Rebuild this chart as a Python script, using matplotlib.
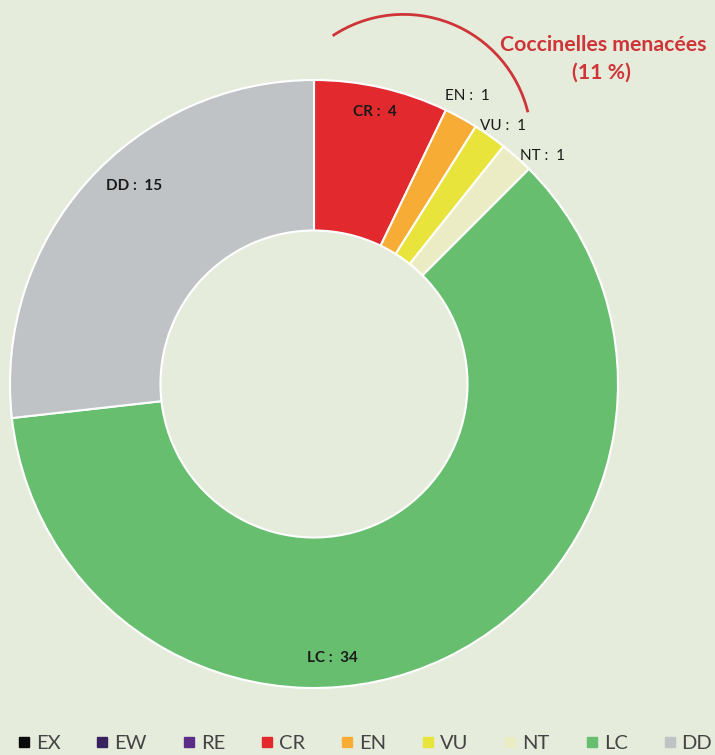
import numpy as np
import matplotlib
matplotlib.use("Agg")
import matplotlib.pyplot as plt
from matplotlib.patches import Arc
from matplotlib.lines import Line2D

# Données
categories = ["EX", "EW", "RE", "CR", "EN", "VU", "NT", "LC", "DD"]
values = [0, 0, 0, 4, 1, 1, 1, 34, 15]
colors = ["#0a0a0a", "#3a2160", "#5b2d86", "#e1292e", "#f7ad35",
          "#e9e43c", "#ececc4", "#66be6e", "#bfc3c6"]
bold_labels = ["CR", "LC", "DD"]

bg = "#e6ecdc"
red = "#cf3438"

plt.rcParams['font.family'] = ['Lato', 'DejaVu Sans']

fig = plt.figure(figsize=(7.15, 7.55), dpi=100)
fig.patch.set_facecolor(bg)
ax = fig.add_axes([0, 0, 1, 1])
ax.set_facecolor(bg)

# nur Kategorien mit Werten > 0 zeichnen
cats_pie = [c for c, v in zip(categories, values) if v > 0]
vals_pie = [v for v in values if v > 0]
cols_pie = [col for col, v in zip(colors, values) if v > 0]

cx, cy, R = 314, 371, 304
ax.pie(vals_pie, colors=cols_pie, startangle=90, counterclock=False,
       center=(cx, cy), radius=R, frame=True,
       wedgeprops=dict(width=R * 0.495, edgecolor="white", linewidth=1.5))
ax.set_xlim(0, 715)
ax.set_ylim(0, 755)
ax.axis("off")

# Position der Beschriftungen (Pixel, y von oben)
label_pos = {"CR": (375, 112), "EN": (467, 96), "VU": (503, 126),
             "NT": (543, 156), "LC": (332, 658), "DD": (134, 186)}
for c, v in zip(cats_pie, vals_pie):
    x, y = label_pos[c]
    ax.text(x, 755 - y, f"{c} :  {v}", ha="center", va="center", fontsize=11,
            color="#1a1a1a", fontweight="bold" if c in bold_labels else "normal")

# Bogen + Titel "menacées"
ax.add_patch(Arc((403.5, 612.6), 2 * 128, 2 * 128, theta1=13.6, theta2=123.6,
                 color=red, lw=2))
ax.text(603, 755 - 45, "Coccinelles menacées", ha="center", va="center",
        fontsize=15.3, fontweight="bold", color=red)
ax.text(601, 755 - 73, "(11 %)", ha="center", va="center",
        fontsize=15.3, fontweight="bold", color=red)

# Legende
handles = [Line2D([], [], marker="s", linestyle="none", markersize=7.5,
                  markerfacecolor=col, markeredgecolor=col) for col in colors]
leg = fig.legend(handles, categories, loc="center left", ncol=9,
                 bbox_to_anchor=(0.0246, 12 / 755), frameon=False, fontsize=14.5,
                 handlelength=0.6, handletextpad=0.3, columnspacing=1.78,
                 borderaxespad=0, borderpad=0, labelcolor="#444444")

fig.savefig("out.png", dpi=100, facecolor=bg)
